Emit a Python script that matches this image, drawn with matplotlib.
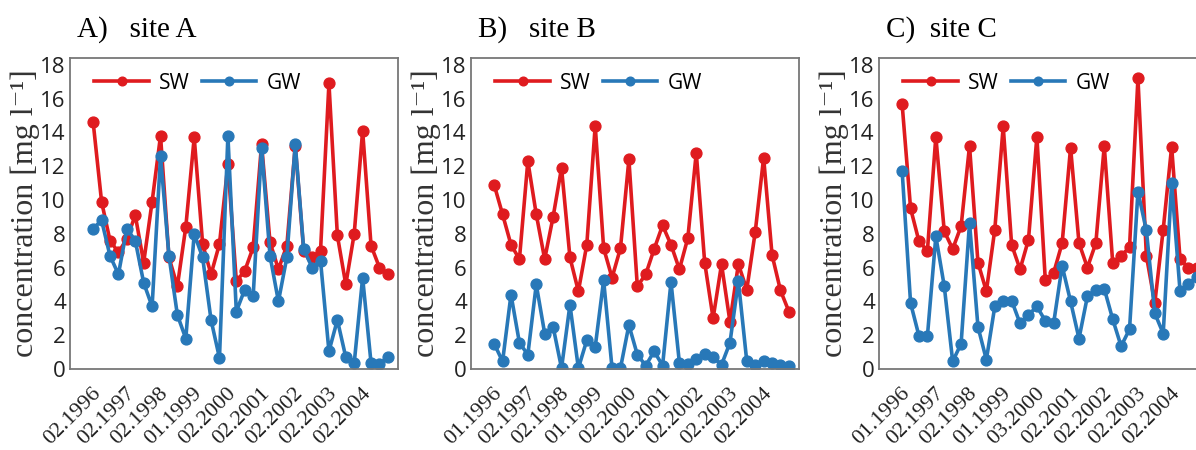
import numpy as np
import matplotlib.pyplot as plt

# quarterly samples, surface water (SW) and groundwater (GW)
sw_a = [14.6, 9.9, 7.6, 6.9, 7.7, 9.1, 6.3, 9.9, 13.8, 6.6, 4.9, 8.4,
        13.7, 7.4, 5.6, 7.4, 12.1, 5.2, 5.8, 7.2, 13.3, 7.5, 5.9, 7.3,
        13.2, 7.0, 6.6, 7.0, 16.9, 7.9, 5.0, 8.0, 14.1, 7.3, 6.0, 5.6]
gw_a = [8.3, 8.8, 6.7, 5.6, 8.3, 7.6, 5.1, 3.7, 12.6, 6.7, 3.2, 1.8,
        8.0, 6.6, 2.9, 0.65, 13.8, 3.4, 4.7, 4.3, 13.1, 6.7, 4.0, 6.6,
        13.3, 7.1, 6.0, 6.4, 1.05, 2.9, 0.7, 0.35, 5.4, 0.35, 0.3, 0.7]

sw_b = [10.9, 9.15, 7.35, 6.5, 12.3, 9.15, 6.5, 9.0, 11.9, 6.6, 4.6, 7.35,
        14.4, 7.15, 5.4, 7.15, 12.4, 4.9, 5.6, 7.1, 8.5, 7.35, 5.9, 7.75,
        12.8, 6.3, 3.0, 6.2, 2.8, 6.2, 4.7, 8.1, 12.5, 6.75, 4.65, 3.4]
gw_b = [1.5, 0.45, 4.4, 1.55, 0.85, 5.0, 2.1, 2.5, 0.05, 3.8, 0.05, 1.7,
        1.3, 5.25, 0.05, 0.05, 2.6, 0.85, 0.2, 1.05, 0.2, 5.15, 0.35, 0.3,
        0.6, 0.9, 0.7, 0.25, 1.55, 5.2, 0.45, 0.25, 0.5, 0.35, 0.25, 0.2]

sw_c = [15.65, 9.5, 7.55, 7.0, 13.75, 8.15, 7.1, 8.45, 13.2, 6.3, 4.6, 8.25,
        14.35, 7.35, 5.9, 7.65, 13.75, 5.25, 5.7, 7.45, 13.1, 7.45, 6.0, 7.45,
        13.2, 6.3, 6.7, 7.2, 17.2, 6.7, 3.9, 8.25, 13.15, 6.5, 6.0, 6.0]
gw_c = [11.7, 3.9, 1.95, 1.95, 7.85, 4.9, 0.45, 1.5, 8.65, 2.5, 0.55, 3.7,
        4.05, 4.05, 2.7, 3.2, 3.7, 2.85, 2.75, 6.1, 4.0, 1.8, 4.3, 4.65,
        4.75, 2.95, 1.35, 2.35, 10.5, 8.2, 3.3, 2.1, 11.0, 4.6, 5.05, 5.45]

labels_a = ['02.1996', '02.1997', '02.1998', '01.1999', '02.2000',
            '02.2001', '02.2002', '02.2003', '02.2004']
labels_b = ['01.1996', '02.1997', '02.1998', '01.1999', '02.2000',
            '02.2001', '02.2002', '02.2003', '02.2004']
labels_c = ['01.1996', '02.1997', '02.1998', '01.1999', '03.2000',
            '02.2001', '02.2002', '02.2003', '02.2004']

titles = ['A)   site A', 'B)   site B', 'C)  site C']

red = '#df1b1f'
blue = '#2878b8'
serif = ['Liberation Serif', 'DejaVu Serif']

fig = plt.figure(figsize=(11.96, 4.5), dpi=100)

# third panel runs off the right edge, like the original
lefts = [70, 471, 879]
panels = [(sw_a, gw_a, labels_a), (sw_b, gw_b, labels_b), (sw_c, gw_c, labels_c)]

for k in range(3):
    sw, gw, labs = panels[k]
    ax = fig.add_axes([lefts[k] / 1196, 81 / 450, 328 / 1196, 311 / 450])
    x = np.arange(len(sw))
    ax.plot(x, sw, '-o', color=red, lw=2.6, ms=7.8, label='SW')
    ax.plot(x, gw, '-o', color=blue, lw=2.6, ms=7.8, label='GW')

    ax.set_xlim(-2.75, 36.2)
    ax.set_ylim(0, 18.4)
    ax.set_yticks(np.arange(0, 19, 2))
    ax.set_xticks(x[1::4] + 0.4)
    ax.set_xticklabels(labs, rotation=45, ha='right', family=serif,
                       fontsize=16)
    for t in ax.get_yticklabels():
        t.set_family('Open Sans')
        t.set_fontsize(16)
    ax.tick_params(length=0, pad=3, colors='#222222')
    ax.tick_params(axis='x', pad=11)
    for s in ax.spines.values():
        s.set_color('#777777')
        s.set_linewidth(1.3)

    ax.set_ylabel('concentration [mg l\u207b\u00b9]',
                  family=serif, fontsize=23, color='#333333',
                  labelpad=0)
    ax.text(0.02, 1.068, titles[k], transform=ax.transAxes,
            family=serif, fontsize=21, va='baseline')

    leg = ax.legend(loc='upper left', ncol=2, frameon=False,
                    prop={'family': 'Open Sans', 'size': 15},
                    handlelength=2.6, columnspacing=0.6, handletextpad=0.5,
                    borderaxespad=0.3, bbox_to_anchor=(0.03, 1.0), markerscale=0.8)

fig.savefig('out.png', dpi=100)
